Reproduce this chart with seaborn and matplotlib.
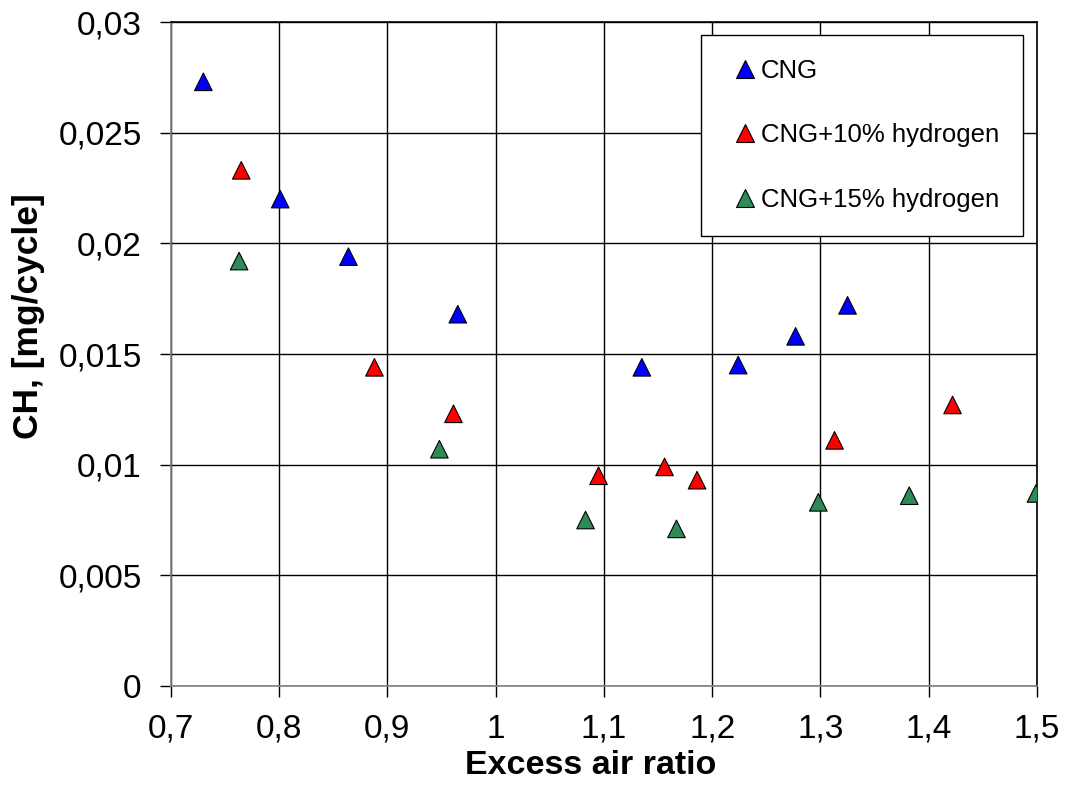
import matplotlib
matplotlib.use("Agg")
import matplotlib.pyplot as plt
import seaborn as sns
import pandas as pd

cng_x = [0.730, 0.801, 0.864, 0.965, 1.135, 1.224, 1.277, 1.325]
cng_y = [0.0273, 0.0220, 0.0194, 0.0168, 0.0144, 0.0145, 0.0158, 0.0172]
h10_x = [0.765, 0.888, 0.961, 1.095, 1.156, 1.186, 1.313, 1.422]
h10_y = [0.0233, 0.0144, 0.0123, 0.0095, 0.0099, 0.0093, 0.0111, 0.0127]
h15_x = [0.763, 0.948, 1.083, 1.167, 1.298, 1.382, 1.499]
h15_y = [0.0192, 0.0107, 0.0075, 0.0071, 0.0083, 0.0086, 0.0087]
series = ["CNG", "CNG+10% hydrogen", "CNG+15% hydrogen"]
colors = ["#0000FF", "#FF0000", "#2E8B57"]
x_ticks = [0.7, 0.8, 0.9, 1.0, 1.1, 1.2, 1.3, 1.4, 1.5]
x_labels = ["0,7", "0,8", "0,9", "1", "1,1", "1,2", "1,3", "1,4", "1,5"]
y_ticks = [0, 0.005, 0.01, 0.015, 0.02, 0.025, 0.03]
y_labels = ["0", "0,005", "0,01", "0,015", "0,02", "0,025", "0,03"]

df = pd.concat([
    pd.DataFrame({"x": cng_x, "y": cng_y, "s": series[0]}),
    pd.DataFrame({"x": h10_x, "y": h10_y, "s": series[1]}),
    pd.DataFrame({"x": h15_x, "y": h15_y, "s": series[2]}),
])

sns.set_style("white")
plt.rcParams["font.family"] = ["Liberation Sans", "DejaVu Sans"]
plt.rcParams["text.color"] = "black"
plt.rcParams["axes.labelcolor"] = "black"
plt.rcParams["xtick.color"] = "black"
plt.rcParams["ytick.color"] = "black"

fig = plt.figure(figsize=(10.68, 7.87), dpi=100)
ax = fig.add_axes([0.160, 0.1283, 0.811, 0.8437])

sns.scatterplot(data=df, x="x", y="y", hue="s", palette=dict(zip(series, colors)),
                marker="^", s=160, edgecolor="black", linewidth=0.8, ax=ax, zorder=3)

ax.set_xlim(0.7, 1.5)
ax.set_ylim(0, 0.03)
ax.set_xticks(x_ticks)
ax.set_xticklabels(x_labels, fontsize=24)
ax.set_yticks(y_ticks)
ax.set_yticklabels(y_labels, fontsize=24)
ax.tick_params(bottom=True, left=True, direction="out", length=8, width=1,
               color="black", labelcolor="black")
ax.tick_params(axis="x", pad=12)
ax.tick_params(axis="y", pad=13)
ax.grid(True, color="black", linewidth=1)
ax.set_axisbelow(True)
for sp in ax.spines.values():
    sp.set_color("#808080")
    sp.set_linewidth(1.2)
ax.spines["top"].set_color("black")
ax.spines["right"].set_color("black")

ax.set_xlabel("Excess air ratio", fontsize=24.5, fontweight="bold")
ax.set_ylabel("CH, [mg/cycle]", fontsize=25.5, fontweight="bold")
ax.xaxis.set_label_coords(0.485, -0.0964)
ax.yaxis.set_label_coords(-0.1455, 0.557)

leg = ax.legend(loc="upper right", bbox_to_anchor=(0.9838, 0.9804), fontsize=18.5,
                frameon=True, fancybox=False, edgecolor="black", framealpha=1,
                labelspacing=1.57, handletextpad=-0.15, borderpad=0.93,
                borderaxespad=0, markerscale=1.0, handlelength=1.56)
leg.get_frame().set_linewidth(1)

fig.savefig("out.png", dpi=100)
